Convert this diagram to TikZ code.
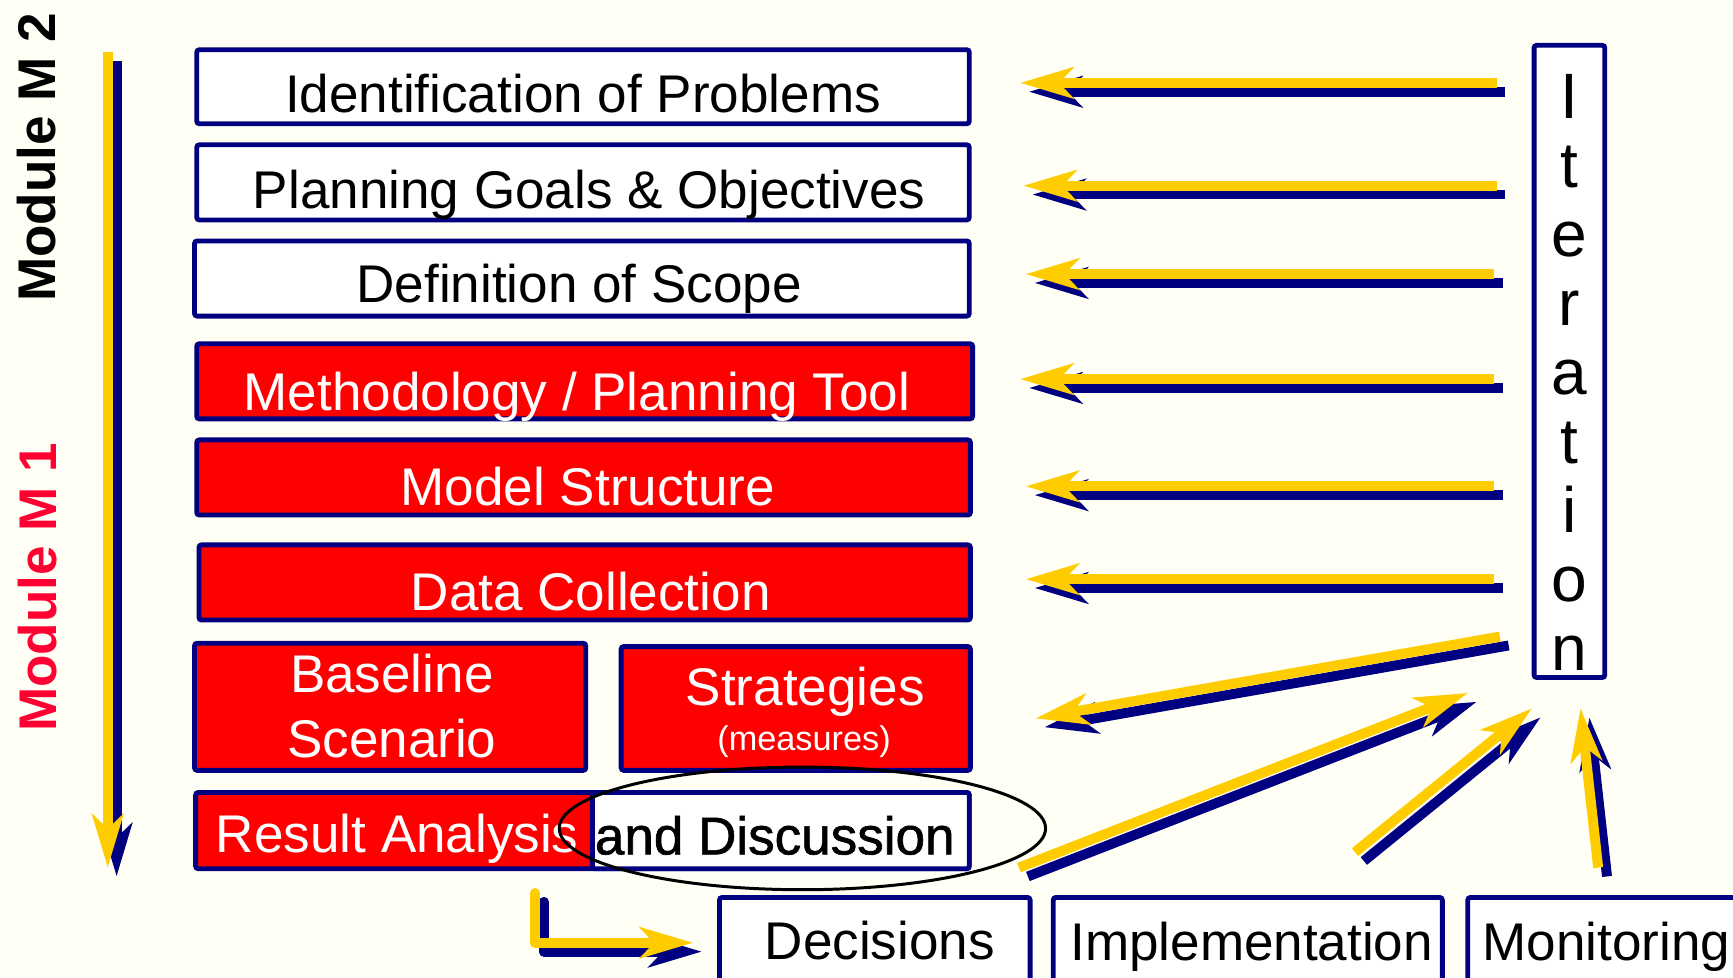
\documentclass[tikz,border=0pt]{standalone}
\usepackage{fontspec}
\setmainfont{Liberation Sans}
\newfontfamily\fakeboldfont[FakeBold=1.2]{Liberation Sans}
\usetikzlibrary{arrows.meta,fit,shapes.geometric}
\definecolor{bgcream}{RGB}{255,255,246}
\definecolor{navyc}{RGB}{0,0,128}
\definecolor{goldc}{RGB}{255,204,0}
\definecolor{redc}{RGB}{255,0,0}
\definecolor{modred}{RGB}{255,0,51}
\tikzset{
  boxw/.style={draw=navyc, line width=2.2pt, fill=white, rounded corners=1.2pt, inner sep=0pt},
  boxr/.style={boxw, fill=redc},
  btxt/.style={anchor=base, inner sep=0pt, font=\fontsize{24}{28}\selectfont},
  wtxt/.style={btxt, text=white},
  ktxt/.style={btxt, text=black},
  tipstyle/.style={-{Stealth[length=24pt,width=14pt,inset=6.5pt]}},
  yarr/.style={draw=goldc, line width=4.5pt, tipstyle},
  narr/.style={draw=navyc, line width=4.5pt, tipstyle, transform canvas={shift={(8,8)}}},
  modlabel/.style={rotate=90, anchor=base, inner sep=0pt, font=\fontsize{24}{28}\selectfont\bfseries},
}
\newcommand{\twinarrow}[3][]{%
  \draw[narr,#1] #2; \draw[yarr,#1] #3;}
\begin{document}
\begin{tikzpicture}[x=0.5pt,y=-0.5pt]
\fill[bgcream] (0,0) rectangle (1568,884);
\useasboundingbox (0,0) rectangle (1568,884);

% module labels
\node[modlabel] (m2) at (50,142.5) {Module M 2};
\node[modlabel, text=modred] (m1) at (51,531.5) {Module M 1};

% boxes
\node[boxw, fit={(178,45) (877,112)}] (b1) {};
\node[boxw, fit={(178,131) (877,199)}] (b2) {};
\node[boxw, fit={(176,218) (877,286)}] (b3) {};
\node[boxr, fit={(178,311) (880,379)}] (b4) {};
\node[boxr, fit={(178,398) (878,466)}] (b5) {};
\node[boxr, fit={(180,493) (878,561)}] (b6) {};
\node[boxr, fit={(176,582) (530,697)}] (b7) {};
\node[boxr, fit={(562,585) (878,697)}] (b8) {};
\node[boxr, fit={(177,717) (877,786)}] (b9) {};
\node[boxw, fit={(536,717) (877,786)}] (b9w) {};
\node[boxw, fit={(1388,41) (1452,613)}] (iter) {};
\node[boxw, fit={(651,812) (932,900)}] (dec) {};
\node[boxw, fit={(953,812) (1305,900)}] (impl) {};
\node[boxw, fit={(1328,812) (1590,900)}] (mon) {};

% texts
\node[ktxt] (t1) at (527.5,102) {Identification of Problems};
\node[ktxt] (t2) at (533,189) {Planning Goals \& Objectives};
\node[ktxt] (t3) at (524,274) {Definition of Scope};
\node[wtxt] (t4) at (522,371) {Methodology / Planning Tool};
\node[wtxt] (t5) at (532,457) {Model Structure};
\node[wtxt] (t6) at (534.5,552) {Data Collection};
\node[wtxt] (t7a) at (354.5,627) {Baseline};
\node[wtxt] (t7b) at (354.5,685) {Scenario};
\node[wtxt] (t8a) at (728.5,638) {Strategies};
\node[wtxt, font=\fontsize{15.5}{18}\selectfont] (t8b) at (727.5,679) {(measures)};
\node[wtxt, anchor=base west] (t9) at (195,771) {Result Analysis};
\node[ktxt, font=\fontsize{24}{28}\fakeboldfont] (t10) at (701,773) {and Discussion};
\node[ktxt] (t11) at (796,868) {Decisions};
\node[ktxt] (t12) at (1132.5,869) {Implementation};
\node[ktxt] (t13) at (1453.5,869) {Monitoring};
\node[inner sep=0pt, align=center, font=\fontsize{29}{31.2}\selectfont] (itxt) at (1420,336.7) {I\\t\\e\\r\\a\\t\\i\\o\\n};

% ellipse
\node[draw=black, line width=1.35pt, ellipse, minimum width=220pt, minimum height=55.5pt, inner sep=0pt] (ell) at (726,749.5) {};

% arrow end points
\coordinate (vs) at (97.5,47);   \coordinate (ve) at (97.5,785);
\coordinate (h1s) at (1354,75);  \coordinate (h1e) at (923,75);
\coordinate (h2s) at (1354,168); \coordinate (h2e) at (926,168);
\coordinate (h3s) at (1352,248); \coordinate (h3e) at (928,248);
\coordinate (h4s) at (1352,343); \coordinate (h4e) at (923,343);
\coordinate (h5s) at (1352,440); \coordinate (h5e) at (928,440);
\coordinate (h6s) at (1352,524); \coordinate (h6e) at (928,524);
\coordinate (d7s) at (1357,576); \coordinate (d7e) at (937,650);
\coordinate (d8s) at (922,785);  \coordinate (d8e) at (1328,627);
\coordinate (d9s) at (1226,771); \coordinate (d9e) at (1386,641);
\coordinate (d10s) at (1446,785); \coordinate (d10e) at (1430,641);
\coordinate (ls) at (484,808);   \coordinate (le) at (627,853);

% arrows
\twinarrow{(vs) -- (ve)}{(vs) -- (ve)}
\twinarrow{(h1s) -- (h1e)}{(h1s) -- (h1e)}
\twinarrow{(h2s) -- (h2e)}{(h2s) -- (h2e)}
\twinarrow{(h3s) -- (h3e)}{(h3s) -- (h3e)}
\twinarrow{(h4s) -- (h4e)}{(h4s) -- (h4e)}
\twinarrow{(h5s) -- (h5e)}{(h5s) -- (h5e)}
\twinarrow{(h6s) -- (h6e)}{(h6s) -- (h6e)}
\twinarrow{(d7s) -- (d7e)}{(d7s) -- (d7e)}
\twinarrow{(d8s) -- (d8e)}{(d8s) -- (d8e)}
\twinarrow{(d9s) -- (d9e)}{(d9s) -- (d9e)}
\twinarrow{(d10s) -- (d10e)}{(d10s) -- (d10e)}
\twinarrow[line cap=round, line join=round]{(ls) |- (le)}{(ls) |- (le)}
\end{tikzpicture}
\end{document}
